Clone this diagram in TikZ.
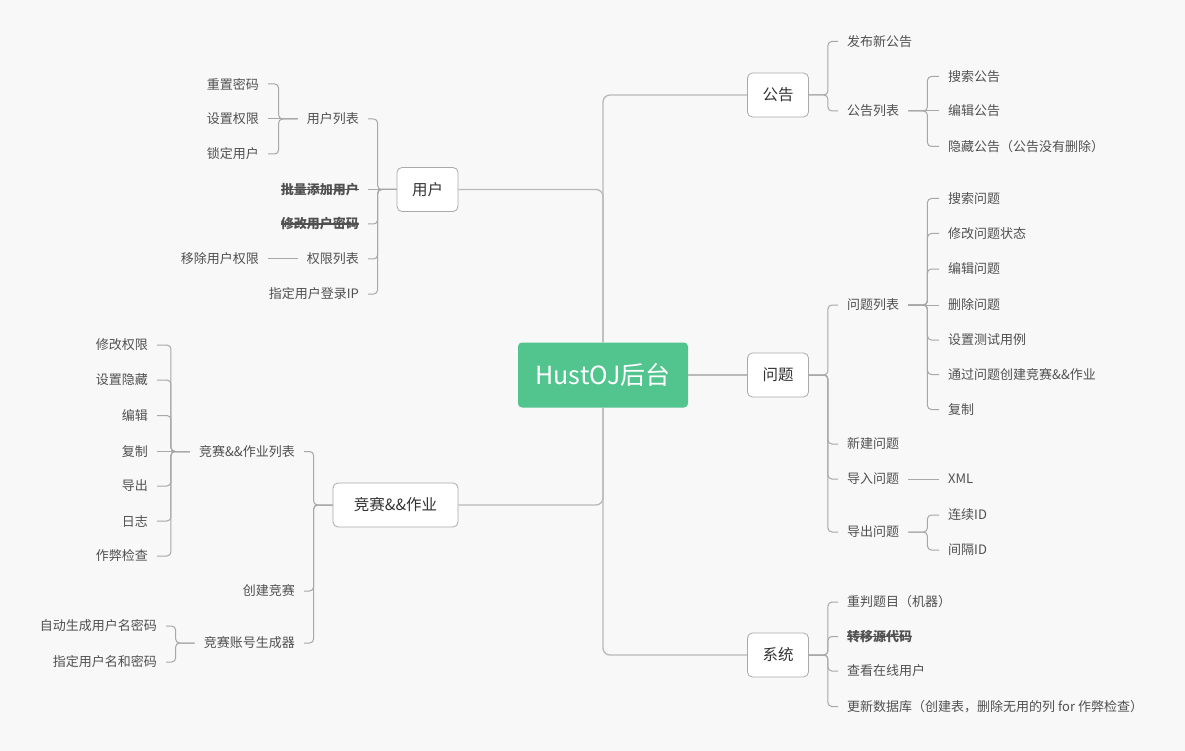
\documentclass[tikz,border=0pt]{standalone}
\usepackage{fontspec}
\setmainfont{Noto Sans CJK SC}
\usetikzlibrary{calc}
\definecolor{bgc}{RGB}{248,248,248}
\definecolor{hubc}{RGB}{82,196,142}
\definecolor{boxc}{RGB}{170,170,170}
\definecolor{boxtxt}{RGB}{51,51,51}
\definecolor{leafc}{RGB}{80,80,80}
\definecolor{linec}{RGB}{168,168,168}
\definecolor{trunkc}{RGB}{185,185,185}
\newcommand\leaffont{\fontsize{13}{16}\selectfont}
\newcommand\boxfont{\fontsize{15.5}{18}\selectfont}
\tikzset{
  leaf/.style={font=\leaffont, text=leafc, inner xsep=9pt, inner ysep=2pt},
  bleaf/.style={leaf, font=\leaffont\bfseries},
  lbox/.style={draw=boxc, fill=white, rounded corners=5pt, font=\boxfont, text=boxtxt,
    minimum height=44pt, minimum width=61pt, line width=0.8pt, inner xsep=14pt},
  hubbox/.style={fill=hubc, rounded corners=4pt, text=white, font=\fontsize{25}{30}\selectfont,
    minimum width=170pt, minimum height=65pt},
  link/.style={draw=linec, line width=1pt, rounded corners=4pt},
  trunk/.style={draw=trunkc, line width=1.3pt, rounded corners=7pt},
  strike/.style={draw=leafc, line width=1.1pt}
}
\begin{document}
\begin{tikzpicture}[x=1pt,y=-1pt]
\fill[bgc] (0,0) rectangle (1185,751);
\useasboundingbox (0,0) rectangle (1185,751);

% hub and main boxes
\node[hubbox] (hub) at (603,375) {HustOJ后台};
\node[lbox] (gg) at (778,95) {公告};
\node[lbox] (wt) at (778,375) {问题};
\node[lbox] (xt) at (778,655) {系统};
\node[lbox] (yh) at (427.5,189.5) {用户};
\node[lbox, minimum width=125pt] (js) at (395.5,505) {竞赛\&\&作业};

\draw[trunk] (hub.north) |- (gg.west);
\draw[trunk] (hub.north) |- (yh.east);
\draw[trunk] (hub.south) |- (js.east);
\draw[trunk] (hub.south) |- (xt.west);
\draw[trunk] (hub.east) -- (wt.west);

% ---- 公告
\node[leaf, anchor=west] (fb) at (838,41.5) {发布新公告};
\node[leaf, anchor=west] (gglb) at (838,111) {公告列表};
\node[leaf, anchor=west] (ssgg) at (939,76.5) {搜索公告};
\node[leaf, anchor=west] (bjgg) at (939,111) {编辑公告};
\node[leaf, anchor=west] (ycgg) at (939,146.5) {隐藏公告（公告没有删除）};
\draw[link] (gg.east) -- ++(19,0) |- (fb.west);
\draw[link] (gg.east) -- ++(19,0) |- (gglb.west);
\draw[link] (gglb.east) -- ++(19,0) |- (ssgg.west);
\draw[link] (gglb.east) -- (bjgg.west);
\draw[link] (gglb.east) -- ++(19,0) |- (ycgg.west);

% ---- 问题
\node[leaf, anchor=west] (wtlb) at (838,305) {问题列表};
\node[leaf, anchor=west] (xjwt) at (838,444) {新建问题};
\node[leaf, anchor=west] (drwt) at (838,479) {导入问题};
\node[leaf, anchor=west] (dcwt) at (838,532) {导出问题};
\node[leaf, anchor=west] (sswt) at (939,198.5) {搜索问题};
\node[leaf, anchor=west] (xgzt) at (939,233.5) {修改问题状态};
\node[leaf, anchor=west] (bjwt) at (939,269) {编辑问题};
\node[leaf, anchor=west] (scwt) at (939,305) {删除问题};
\node[leaf, anchor=west] (csyl) at (939,340) {设置测试用例};
\node[leaf, anchor=west] (tgcj) at (939,374.5) {通过问题创建竞赛\&\&作业};
\node[leaf, anchor=west] (fzwt) at (939,409.5) {复制};
\node[leaf, anchor=west] (xml) at (939,479) {XML};
\node[leaf, anchor=west] (lxid) at (939,515) {连续ID};
\node[leaf, anchor=west] (jgid) at (939,550) {间隔ID};
\draw[link] (wt.east) -- ++(19,0) |- (wtlb.west);
\draw[link] (wt.east) -- ++(19,0) |- (xjwt.west);
\draw[link] (wt.east) -- ++(19,0) |- (drwt.west);
\draw[link] (wt.east) -- ++(19,0) |- (dcwt.west);
\draw[link] (wtlb.east) -- ++(19,0) |- (sswt.west);
\draw[link] (wtlb.east) -- ++(19,0) |- (xgzt.west);
\draw[link] (wtlb.east) -- ++(19,0) |- (bjwt.west);
\draw[link] (wtlb.east) -- (scwt.west);
\draw[link] (wtlb.east) -- ++(19,0) |- (csyl.west);
\draw[link] (wtlb.east) -- ++(19,0) |- (tgcj.west);
\draw[link] (wtlb.east) -- ++(19,0) |- (fzwt.west);
\draw[link] (drwt.east) -- (xml.west);
\draw[link] (dcwt.east) -- ++(19,0) |- (lxid.west);
\draw[link] (dcwt.east) -- ++(19,0) |- (jgid.west);

% ---- 系统
\node[leaf, anchor=west] (cptm) at (838,602) {重判题目（机器）};
\node[bleaf, anchor=west] (zydm) at (838,636.5) {转移源代码};
\node[leaf, anchor=west] (ckzx) at (838,671) {查看在线用户};
\node[leaf, anchor=west] (gxsj) at (838,706.5) {更新数据库（创建表，删除无用的列 for 作弊检查）};
\draw[link] (xt.east) -- ++(19,0) |- (cptm.west);
\draw[link] (xt.east) -- ++(19,0) |- (zydm.west);
\draw[link] (xt.east) -- ++(19,0) |- (ckzx.west);
\draw[link] (xt.east) -- ++(19,0) |- (gxsj.west);
\draw[strike] ($(zydm.west)+(9,0)$) -- ($(zydm.east)+(-9,0)$);

% ---- 用户
\node[leaf, anchor=east] (yhlb) at (368,119) {用户列表};
\node[bleaf, anchor=east] (pltj) at (368,189.5) {批量添加用户};
\node[bleaf, anchor=east] (xgmm) at (368,224) {修改用户密码};
\node[leaf, anchor=east] (qxlb) at (368,259) {权限列表};
\node[leaf, anchor=east] (zddl) at (368,294) {指定用户登录IP};
\node[leaf, anchor=east] (czmm) at (268,84) {重置密码};
\node[leaf, anchor=east] (szqx) at (268,119) {设置权限};
\node[leaf, anchor=east] (sdyh) at (268,154) {锁定用户};
\node[leaf, anchor=east] (ycqx) at (268,259) {移除用户权限};
\draw[link] (yh.west) -- ++(-19,0) |- (yhlb.east);
\draw[link] (yh.west) -- (pltj.east);
\draw[link] (yh.west) -- ++(-19,0) |- (xgmm.east);
\draw[link] (yh.west) -- ++(-19,0) |- (qxlb.east);
\draw[link] (yh.west) -- ++(-19,0) |- (zddl.east);
\draw[link] (yhlb.west) -- ++(-19,0) |- (czmm.east);
\draw[link] (yhlb.west) -- (szqx.east);
\draw[link] (yhlb.west) -- ++(-19,0) |- (sdyh.east);
\draw[link] (qxlb.west) -- (ycqx.east);
\draw[strike] ($(pltj.west)+(9,0)$) -- ($(pltj.east)+(-9,0)$);
\draw[strike] ($(xgmm.west)+(9,0)$) -- ($(xgmm.east)+(-9,0)$);

% ---- 竞赛&&作业
\node[leaf, anchor=east] (jslb) at (304,451.5) {竞赛\&\&作业列表};
\node[leaf, anchor=east] (cjjs) at (304,591) {创建竞赛};
\node[leaf, anchor=east] (zhsc) at (304,643) {竞赛账号生成器};
\node[leaf, anchor=east] (xgqx) at (157,345) {修改权限};
\node[leaf, anchor=east] (szyc) at (157,380) {设置隐藏};
\node[leaf, anchor=east] (bj) at (157,415.5) {编辑\hspace{5pt}};
\node[leaf, anchor=east] (fz) at (157,451.5) {复制\hspace{5pt}};
\node[leaf, anchor=east] (dc) at (157,486) {导出\hspace{5pt}};
\node[leaf, anchor=east] (rz) at (157,521) {日志\hspace{5pt}};
\node[leaf, anchor=east] (zbjc) at (157,556) {作弊检查};
\node[leaf, anchor=east] (zdsc) at (166,626) {自动生成用户名密码};
\node[leaf, anchor=east] (zdmm) at (166,662) {指定用户名和密码};
\draw[link] (js.west) -- ++(-19,0) |- (jslb.east);
\draw[link] (js.west) -- ++(-19,0) |- (cjjs.east);
\draw[link] (js.west) -- ++(-19,0) |- (zhsc.east);
\draw[link] (jslb.west) -- ++(-19,0) |- (xgqx.east);
\draw[link] (jslb.west) -- ++(-19,0) |- (szyc.east);
\draw[link] (jslb.west) -- ++(-19,0) |- (bj.east);
\draw[link] (jslb.west) -- (fz.east);
\draw[link] (jslb.west) -- ++(-19,0) |- (dc.east);
\draw[link] (jslb.west) -- ++(-19,0) |- (rz.east);
\draw[link] (jslb.west) -- ++(-19,0) |- (zbjc.east);
\draw[link] (zhsc.west) -- ++(-19,0) |- (zdsc.east);
\draw[link] (zhsc.west) -- ++(-19,0) |- (zdmm.east);
\end{tikzpicture}
\end{document}
